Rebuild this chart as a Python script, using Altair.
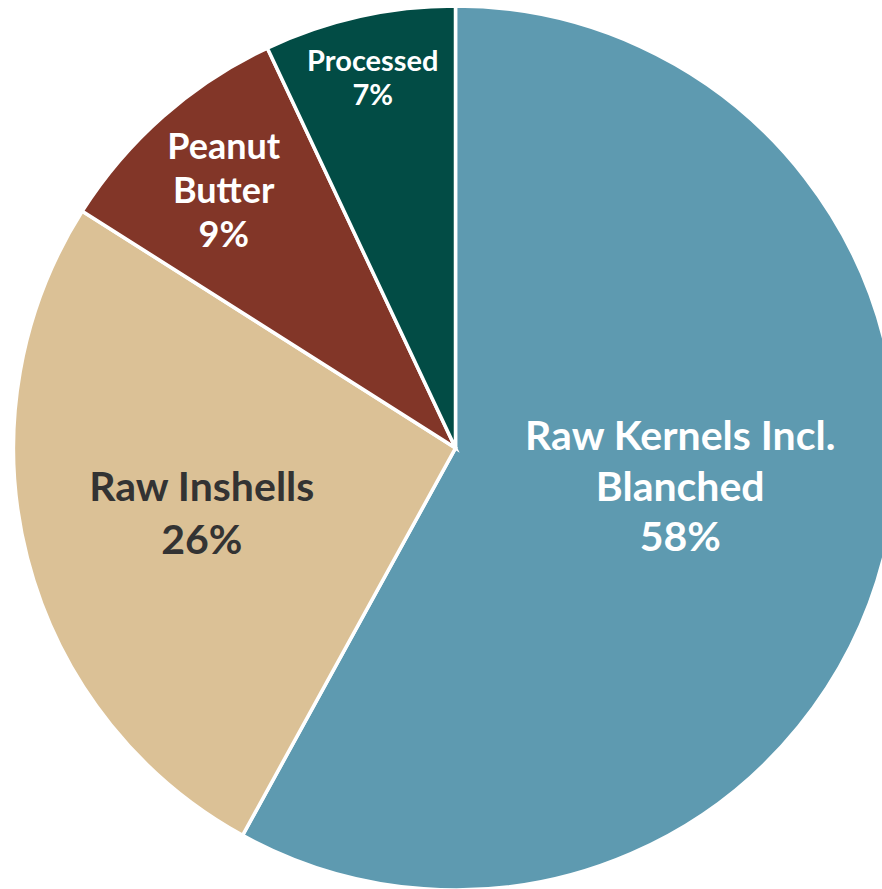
import altair as alt
import pandas as pd

# Peanut product shares (%)
categories = ["Raw Kernels Incl. Blanched", "Raw Inshells", "Peanut Butter", "Processed"]
shares = [58, 26, 9, 7]
label_text = ["Raw Kernels Incl.|Blanched", "Raw Inshells", "Peanut|Butter", "Processed"]
slice_colors = ["#5E9AB0", "#DBC196", "#823628", "#024C45"]
text_colors = ["#FFFFFF", "#333333", "#FFFFFF", "#FFFFFF"]

df = pd.DataFrame({
    "category": categories,
    "share": shares,
    "label": label_text,
    "idx": list(range(len(categories))),
})

W, H = 882, 889
CX, CY, R = 455.5, 448, 442

# label placement: distance of the text block's centre from the pie centre,
# small horizontal / vertical nudges, font size and line height
label_layout = {
    "Raw Kernels Incl. Blanched": dict(r=232, dx=0, nudge=-17, size=41, lh=50.5),
    "Raw Inshells": dict(r=262, dx=0, nudge=2, size=41, lh=53),
    "Peanut Butter": dict(r=346, dx=-3, nudge=4, size=36, lh=44),
    "Processed": dict(r=379, dx=0, nudge=1, size=29, lh=34),
}

base = alt.Chart(df).transform_window(
    cum="sum(share)", sort=[alt.SortField("idx")]
).transform_joinaggregate(
    total="sum(share)"
).transform_calculate(
    mid="2 * PI * (datum.cum - datum.share / 2) / datum.total",
    lines="split(datum.label + '|' + datum.share + '%', '|')",
)

pie = base.mark_arc(outerRadius=R, stroke="white", strokeWidth=3.5).encode(
    theta=alt.Theta("share:Q", stack=True),
    color=alt.Color("category:N", scale=alt.Scale(domain=categories, range=slice_colors), legend=None),
    order=alt.Order("idx:Q"),
    x=alt.value(CX),
    y=alt.value(CY),
)

layers = [pie]
for cat, lbl, tcol in zip(categories, label_text, text_colors):
    lay = label_layout[cat]
    n_lines = len(lbl.split("|")) + 1
    # multi-line text starts at the anchor, so lift it to centre the block
    shift = -(n_lines - 1) * lay["lh"] / 2 + lay["nudge"]
    txt = base.transform_filter(
        alt.datum.category == cat
    ).transform_calculate(
        lx=f"{CX} + {lay['r']} * sin(datum.mid)",
        ly=f"{CY} - {lay['r']} * cos(datum.mid)",
    ).mark_text(
        font="Lato",
        fontWeight="bold",
        fontSize=lay["size"],
        lineHeight=lay["lh"],
        align="center",
        baseline="middle",
        color=tcol,
        dx=lay["dx"],
        dy=shift,
    ).encode(
        x=alt.X("lx:Q", scale=None),
        y=alt.Y("ly:Q", scale=None),
        text="lines:N",
    )
    layers.append(txt)

chart = alt.layer(*layers).properties(
    width=W, height=H,
    autosize=alt.AutoSizeParams(type="none"),
    padding=0,
    background="white",
).configure_view(stroke=None)

chart.save("out.html", embed_options={"renderer": "svg", "actions": False})
